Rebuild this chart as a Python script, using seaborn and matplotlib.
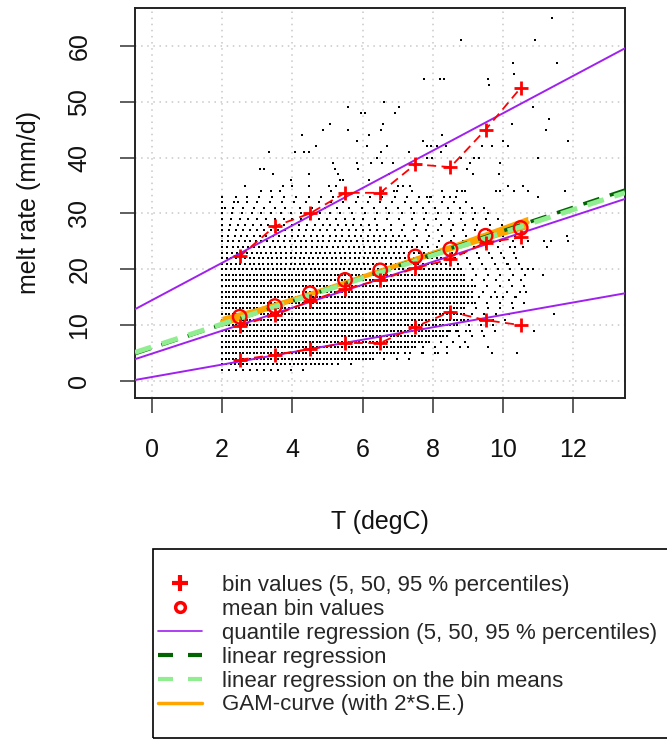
import numpy as np
import matplotlib
matplotlib.use("Agg")
import matplotlib.pyplot as plt
from matplotlib.lines import Line2D
from matplotlib.patches import Rectangle
import seaborn as sns

# bins (T centres) and the binned statistics
bin_t = [2.5, 3.5, 4.5, 5.5, 6.5, 7.5, 8.5, 9.5, 10.5]
q95_bin = [22.3, 27.7, 30.0, 33.7, 33.7, 38.8, 38.3, 45.0, 52.5]
q50_bin = [9.9, 11.8, 14.3, 16.5, 18.1, 20.2, 21.8, 24.8, 25.7]
q05_bin = [3.8, 4.7, 5.7, 6.8, 6.8, 9.7, 12.4, 10.9, 10.0]
mean_bin = [11.5, 13.4, 15.7, 18.1, 19.8, 22.3, 23.6, 26.0, 27.4]

# quantile regression lines (5, 50, 95 %)
qr_intercept = [0.71, 4.89, 14.46]
qr_slope = [1.113, 2.057, 3.35]

# linear regression (all data) and on the bin means
lm_intercept, lm_slope = 5.9, 2.10
lmbin_intercept, lmbin_slope = 6.1, 2.05

# GAM curve with 2*S.E.
gam_t = [2.0, 3.0, 4.0, 5.0, 6.0, 7.0, 8.0, 9.0, 10.0, 10.7]
gam_fit = [10.7, 12.6, 14.6, 16.6, 18.7, 20.8, 22.9, 24.9, 27.0, 28.4]
gam_se2 = [0.9, 0.6, 0.45, 0.35, 0.35, 0.4, 0.5, 0.7, 0.9, 1.1]

# dense part of the point cloud: integer melt-rate rows, with the T extent
# of the dense and of the thinner part of each row
row_y = [2, 3, 4, 5, 6, 7, 8, 9, 10, 11, 12, 13, 14, 15, 16, 17, 18, 19, 20,
         21, 22, 23, 24, 25, 26, 27, 28, 29, 30, 31, 32, 33]
row_dense = [3.6, 5.2, 6.4, 7.0, 7.6, 8.0, 8.4, 8.6, 8.8, 9.0, 9.0, 9.0, 9.2,
             9.2, 9.2, 9.2, 9.0, 9.0, 8.8, 8.6, 8.4, 8.2, 8.0, 7.6, 7.2, 7.0,
             6.6, 6.0, 5.6, 4.0, 3.0, 2.6]
row_sparse = [4.4, 6.0, 7.4, 8.4, 8.8, 9.2, 9.6, 9.8, 10.0, 10.2, 10.4, 10.4,
              10.6, 10.6, 10.6, 10.8, 10.8, 10.8, 10.8, 10.6, 10.6, 10.6, 10.6,
              10.4, 10.4, 10.2, 10.2, 10.0, 9.8, 9.6, 9.2, 9.0]
row_step = [0.2, 0.12, 0.1, 0.1, 0.1, 0.1, 0.1, 0.1, 0.1, 0.1, 0.1, 0.1, 0.1,
            0.1, 0.1, 0.1, 0.1, 0.1, 0.12, 0.13, 0.13, 0.14, 0.15, 0.16, 0.18,
            0.2, 0.22, 0.25, 0.28, 0.3, 0.35, 0.4]

# scattered single points outside the dense part
out_pts = [
    (11.4, 65), (8.8, 61), (10.92, 61), (10.28, 57), (11.53, 57), (10.3, 55),
    (7.76, 54), (8.21, 54), (8.32, 54), (9.58, 54), (9.6, 53),
    (6.62, 50), (5.58, 49), (7.05, 49), (10.85, 49), (5.95, 48), (6.07, 48),
    (6.92, 48), (11.31, 47), (5.07, 46), (6.57, 46), (10.25, 46),
    (4.86, 45), (5.58, 45), (6.53, 45), (11.22, 45), (4.28, 44), (6.18, 44),
    (8.26, 44), (5.83, 43), (7.73, 43), (9.99, 43), (11.86, 43),
    (4.66, 42), (6.12, 42), (6.7, 42), (7.84, 42), (7.94, 42), (8.13, 42),
    (8.36, 42), (9.4, 42), (9.69, 42), (10.13, 42),
    (3.34, 41), (4.07, 41), (4.34, 41), (4.48, 41), (6.52, 41), (7.31, 41),
    (8.24, 41), (6.4, 40), (7.83, 40), (7.97, 40), (8.81, 40), (9.18, 40),
    (9.32, 40), (10.99, 40), (5.17, 39), (5.83, 39), (6.23, 39), (6.54, 39),
    (6.86, 39), (9.05, 39), (9.91, 39), (3.08, 38), (3.2, 38), (5.21, 38),
    (5.86, 38), (8.96, 38), (3.44, 37), (4.48, 37), (5.31, 37), (6.76, 37),
    (9.14, 37), (9.89, 37), (3.95, 36), (5.36, 36), (5.43, 36), (6.17, 36),
    (2.66, 35), (3.74, 35), (4.0, 35), (4.48, 35), (5.03, 35), (5.25, 35),
    (7.02, 35), (7.16, 35), (7.35, 35), (10.15, 35), (10.58, 35),
    (3.1, 34), (3.38, 34), (3.65, 34), (5.11, 34), (6.57, 34), (6.88, 34),
    (6.97, 34), (7.42, 34), (8.25, 34), (8.7, 34), (8.82, 34), (8.92, 34),
    (9.8, 34), (9.9, 34), (10.32, 34), (10.72, 34), (11.77, 34),
    (2.46, 32), (7.82, 33), (7.91, 33), (8.49, 33), (10.99, 33), (2.08, 31),
    (10.39, 5), (9.68, 5), (8.99, 6), (8.16, 5), (7.71, 5), (7.21, 5),
    (7.3, 7), (9.58, 6), (8.66, 9), (8.95, 9), (8.46, 9), (10.89, 9),
    (11.46, 12), (10.65, 16), (10.34, 15), (9.82, 15), (11.13, 19),
    (10.85, 20), (10.7, 20), (11.86, 25), (11.37, 25), (11.15, 25),
    (10.7, 25), (10.34, 24), (10.13, 21), (11.81, 26), (11.24, 24),
]

cloud_t, cloud_y = [], []
for i, (y, t1, t2, st) in enumerate(zip(row_y, row_dense, row_sparse, row_step)):
    shift = (i % 3) * 0.11
    tt = np.concatenate([np.arange(2.0, t1, st),
                         np.arange(t1 + shift, t2, 0.35)])
    cloud_t.extend(tt)
    cloud_y.extend([y] * len(tt))
cloud_t.extend(p[0] for p in out_pts)
cloud_y.extend(p[1] for p in out_pts)

sns.set_style("white")
plt.rcParams["font.family"] = ["Liberation Sans", "DejaVu Sans"]

fig = plt.figure(figsize=(6.67, 7.42), dpi=100)
ax = fig.add_axes([135 / 667, 1 - 398 / 742, 490 / 667, 390 / 742])

purple = "#A020F0"

sns.scatterplot(x=cloud_t, y=cloud_y, marker="s", s=4.5, color="black",
                linewidth=0, ax=ax, zorder=2)

lo = np.array(gam_fit) - np.array(gam_se2)
hi = np.array(gam_fit) + np.array(gam_se2)
ax.fill_between(gam_t, lo, hi, color="orange", lw=0, zorder=3)
sns.lineplot(x=gam_t, y=gam_fit, color="orange", lw=3, ax=ax, zorder=3)

for a, b in zip(qr_intercept, qr_slope):
    ax.axline((0, a), slope=b, color=purple, lw=1.4, zorder=4)

ax.axline((0, lm_intercept), slope=lm_slope, color="#006400", lw=2.6,
          linestyle=(0, (4.7, 3.0)), zorder=5)
ax.axline((0, lmbin_intercept), slope=lmbin_slope, color="#90EE90", lw=3.6,
          linestyle=(0, (3.4, 2.2)), zorder=5)

for vals in (q95_bin, q50_bin, q05_bin):
    sns.lineplot(x=bin_t, y=vals, color="red", lw=1.3,
                 linestyle=(0, (5, 3)), ax=ax, zorder=6)
    sns.scatterplot(x=bin_t, y=vals, marker="+", s=110, color="red",
                    linewidth=2.0, ax=ax, zorder=7)
sns.scatterplot(x=bin_t, y=mean_bin, marker="o", s=95, facecolor="none",
                edgecolor="red", linewidth=1.7, ax=ax, zorder=7)

ax.set_xlim(-0.48, 13.47)
ax.set_ylim(-3.05, 66.8)
ax.set_xticks(range(0, 13, 2))
ax.set_yticks(range(0, 61, 10))
ax.grid(True, color="#c8c8c8", linestyle=(0, (1, 3)), lw=1.1)
ax.set_axisbelow(True)
for sp in ax.spines.values():
    sp.set_color("#222222")
    sp.set_linewidth(1.4)
ax.tick_params(axis="both", direction="out", length=10.5, width=1.1,
               color="#333333", labelsize=18, labelcolor="#111111",
               bottom=True, left=True)
ax.tick_params(axis="x", pad=18)
ax.tick_params(axis="y", pad=21, labelrotation=90)
for lbl in ax.get_yticklabels():
    lbl.set_verticalalignment("center")

ax.set_xlabel("T (degC)", fontsize=18, va="center", color="#111111")
ax.set_ylabel("melt rate (mm/d)", fontsize=18, va="center", color="#111111")
ax.xaxis.set_label_coords(0.5, -(522 - 398) / 390)
ax.yaxis.set_label_coords(-(135 - 29) / 490, 0.5)

# legend below the plot, box running past the right edge of the figure
fig.add_artist(Rectangle((153 / 667, 1 - 738 / 742), 0.9, (738 - 549) / 742,
                         transform=fig.transFigure, fill=False,
                         edgecolor="black", lw=1.2))
handles = [
    Line2D([], [], color="red", marker="+", ls="none", ms=11, mew=3),
    Line2D([], [], color="red", marker="o", mfc="none", ls="none", ms=7, mew=2.5),
    Line2D([], [], color=purple, lw=1.2),
    Line2D([], [], color="#006400", lw=3, dashes=(3.6, 3.6)),
    Line2D([], [], color="#90EE90", lw=3, dashes=(3.6, 3.6)),
    Line2D([], [], color="orange", lw=2.5),
]
labels = [
    "bin values (5, 50, 95 % percentiles)",
    "mean bin values",
    "quantile regression (5, 50, 95 % percentiles)",
    "linear regression",
    "linear regression on the bin means",
    "GAM-curve (with 2*S.E.)",
]
fig.legend(handles, labels, loc="upper left",
           bbox_to_anchor=(158 / 667, 1 - 575 / 742), frameon=False,
           fontsize=16, handlelength=2.0, handletextpad=0.9,
           labelspacing=0.13, borderpad=0, borderaxespad=0)

fig.savefig("out.png", dpi=100)
